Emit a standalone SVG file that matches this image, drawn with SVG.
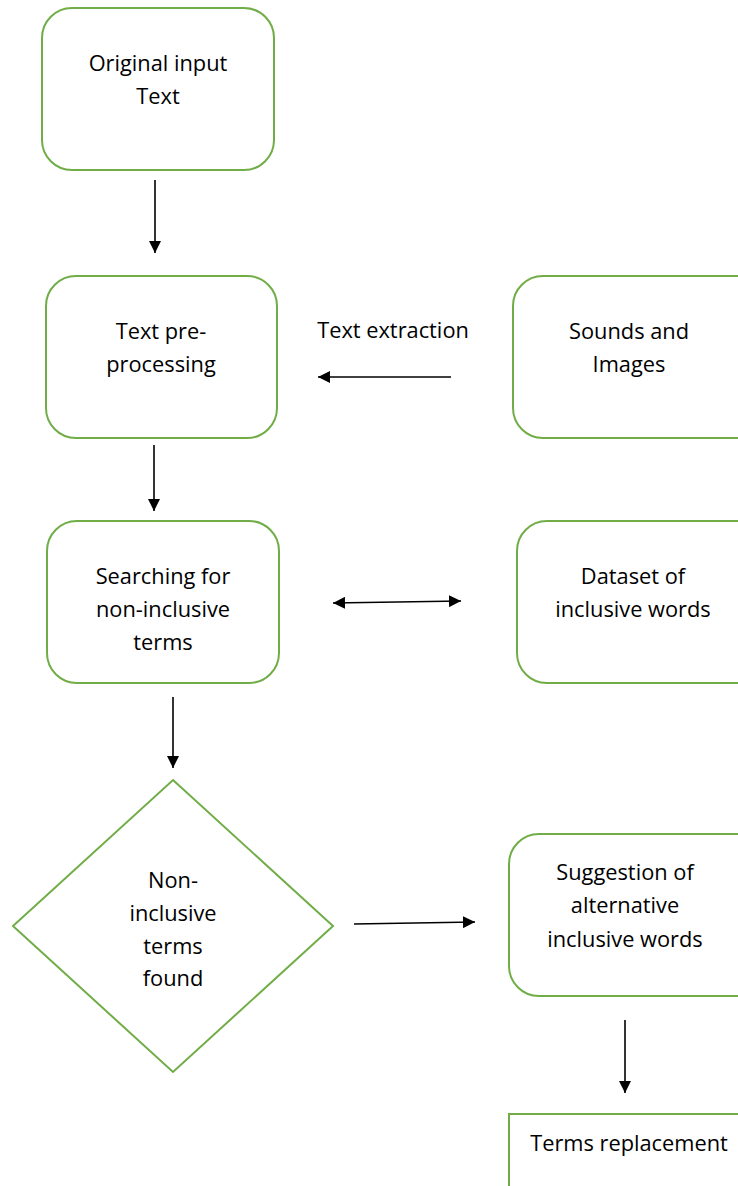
<svg xmlns="http://www.w3.org/2000/svg" width="738" height="1186" viewBox="0 0 738 1186">
<defs>
<style>
.box{fill:#fff;stroke:#70AD47;stroke-width:2}
.t{font-family:"Open Sans","Liberation Sans",sans-serif;font-size:21.8px;fill:#000;text-anchor:middle}
.c{stroke:#000;stroke-width:1.6;fill:none}
</style>
<marker id="ah" viewBox="0 0 10 10" refX="10" refY="5" markerWidth="12" markerHeight="12" markerUnits="userSpaceOnUse" orient="auto-start-reverse">
<path d="M0,0 L10,5 L0,10 z" fill="#000"/>
</marker>
</defs>
<rect width="738" height="1186" fill="#fff"/>
<g id="n1">
<rect class="box" x="42" y="8" width="232" height="162" rx="30"/>
<text class="t" x="158" y="71">Original input</text>
<text class="t" x="158" y="104">Text</text>
</g>
<g id="n2">
<rect class="box" x="46" y="276" width="231" height="162" rx="30"/>
<text class="t" x="161" y="339">Text pre-</text>
<text class="t" x="161" y="372">processing</text>
</g>
<g id="n3">
<rect class="box" x="513" y="276" width="260" height="162" rx="30"/>
<text class="t" x="629" y="339">Sounds and</text>
<text class="t" x="629" y="372">Images</text>
</g>
<g id="n4">
<rect class="box" x="47" y="521" width="232" height="162" rx="30"/>
<text class="t" x="163" y="584">Searching for</text>
<text class="t" x="163" y="617">non-inclusive</text>
<text class="t" x="163" y="650">terms</text>
</g>
<g id="n5">
<rect class="box" x="517" y="521" width="260" height="162" rx="30"/>
<text class="t" x="633" y="584">Dataset of</text>
<text class="t" x="633" y="617">inclusive words</text>
</g>
<g id="n6">
<polygon class="box" points="173,780 333,926 173,1072 13,926"/>
<text class="t" x="173" y="888">Non-</text>
<text class="t" x="173" y="921">inclusive</text>
<text class="t" x="173" y="954">terms</text>
<text class="t" x="173" y="986">found</text>
</g>
<g id="n7">
<rect class="box" x="509" y="834" width="260" height="162" rx="30"/>
<text class="t" x="625" y="880">Suggestion of</text>
<text class="t" x="625" y="913">alternative</text>
<text class="t" x="625" y="947">inclusive words</text>
</g>
<g id="n8">
<rect class="box" x="509" y="1114" width="260" height="100"/>
<text class="t" x="629" y="1151">Terms replacement</text>
</g>
<g id="connectors">
<line class="c" x1="155" y1="180" x2="155" y2="253" marker-end="url(#ah)"/>
<line class="c" x1="451" y1="377" x2="318" y2="377" marker-end="url(#ah)"/>
<text class="t" x="393" y="338">Text extraction</text>
<line class="c" x1="154" y1="445" x2="154" y2="511" marker-end="url(#ah)"/>
<line class="c" x1="333" y1="603" x2="461" y2="601" marker-start="url(#ah)" marker-end="url(#ah)"/>
<line class="c" x1="173" y1="697" x2="173" y2="768" marker-end="url(#ah)"/>
<line class="c" x1="354" y1="924" x2="475" y2="922" marker-end="url(#ah)"/>
<line class="c" x1="625" y1="1020" x2="625" y2="1093" marker-end="url(#ah)"/>
</g>
</svg>
